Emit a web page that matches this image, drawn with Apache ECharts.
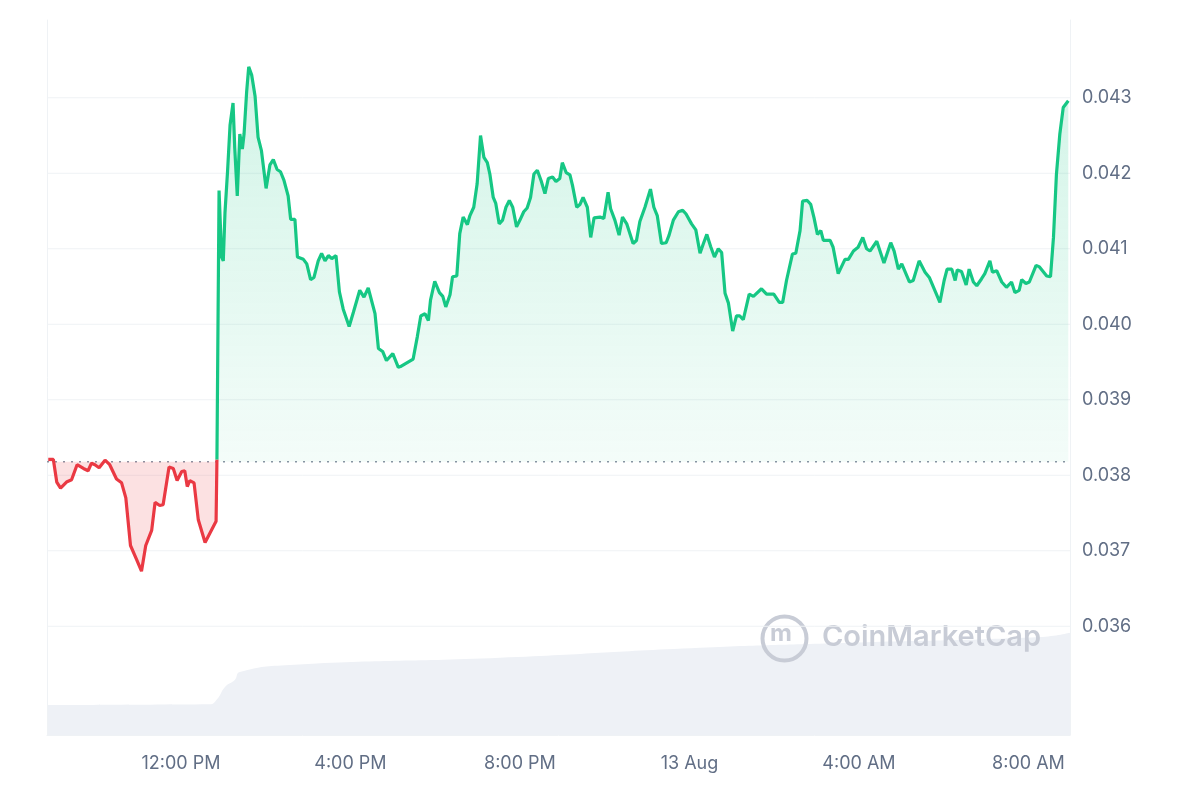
<!DOCTYPE html>
<html><head><meta charset="utf-8">
<script src="https://cdn.jsdelivr.net/npm/echarts@6/dist/echarts.min.js"></script>
<style>html,body{margin:0;padding:0;background:#fff}#c{width:1200px;height:800px}</style>
</head><body><div id="c"></div>
<script>
// hours relative to 12:00 PM on day 1
const baseline = 0.03818;
const xMin = -3.16, xMax = 20.98;
const yTicks = [0.036,0.037,0.038,0.039,0.040,0.041,0.042,0.043];
const xTicks = [0,4,8,12,16,20];
const xTickLabels = ['12:00 PM','4:00 PM','8:00 PM','13 Aug','4:00 AM','8:00 AM'];
const redHours = [-3.13,-3.01,-2.93,-2.84,-2.70,-2.58,-2.45,-2.30,-2.19,-2.11,-2.03,-1.93,-1.79,-1.68,-1.52,-1.40,-1.30,-1.19,-1.05,-0.93,-0.83,-0.69,-0.61,-0.50,-0.42,-0.28,-0.18,-0.09,0.02,0.09,0.15,0.21,0.31,0.41,0.57,0.68,0.83,0.85];
const redPrices = [0.03821,0.03821,0.03791,0.03783,0.03791,0.03794,0.03814,0.03809,0.03806,0.03816,0.03814,0.03810,0.03820,0.03814,0.03795,0.03790,0.03770,0.03707,0.03689,0.03673,0.03707,0.03727,0.03764,0.03760,0.03761,0.03811,0.03809,0.03793,0.03805,0.03806,0.03785,0.03793,0.03790,0.03741,0.03711,0.03723,0.03739,0.03821];
const greenHours = [0.85,0.90,0.96,1.00,1.04,1.10,1.16,1.23,1.27,1.33,1.39,1.45,1.49,1.55,1.60,1.67,1.75,1.82,1.90,2.01,2.10,2.18,2.27,2.35,2.43,2.53,2.59,2.69,2.75,2.89,2.97,3.06,3.14,3.24,3.32,3.40,3.48,3.56,3.66,3.74,3.83,3.97,4.07,4.22,4.32,4.42,4.58,4.66,4.76,4.85,5.00,5.13,
5.18,5.33,5.48,5.58,5.66,5.76,5.84,5.89,5.99,6.10,6.18,6.25,6.35,6.41,6.51,6.58,6.66,6.76,6.82,6.91,6.99,7.07,7.15,7.23,7.29,7.37,7.43,7.51,7.59,7.67,7.75,7.83,7.92,8.00,8.09,8.17,8.25,8.33,8.41,8.50,8.59,8.67,8.77,8.85,8.94,9.00,9.09,9.18,9.24,9.34,9.42,9.49,9.59,9.67,9.75,9.89,9.98,10.08,10.14,10.24,10.34,10.42,10.52,10.67,10.75,10.83,10.95,11.08,11.16,11.24,11.34,11.45,11.52,11.62,11.74,11.84,11.92,12.05,12.15,12.25,12.33,12.41,12.50,12.59,12.68,12.76,12.84,12.92,13.02,13.11,13.19,
13.27,13.41,13.51,13.70,13.82,13.99,14.12,14.20,14.29,14.43,14.51,14.61,14.67,14.78,14.86,14.94,15.02,15.10,15.16,15.32,15.39,15.51,15.67,15.75,15.87,15.98,16.09,16.18,16.26,16.42,16.59,16.75,16.83,16.93,17.01,17.19,17.28,17.42,17.56,17.66,17.91,18.01,18.08,18.19,18.27,18.32,18.42,18.53,18.60,18.70,18.78,18.89,18.97,19.09,19.15,19.25,19.37,19.48,19.60,19.68,19.78,19.84,19.94,20.02,20.18,20.26,20.43,20.52,20.59,20.66,20.74,20.82,20.94];
const greenPrices = [0.03821,0.04177,0.04089,0.04084,0.04148,0.04202,0.04264,0.04293,0.04234,0.04170,0.04252,0.04232,0.04252,0.04307,0.04341,0.04330,0.04302,0.04248,0.04230,0.04180,0.04211,0.04218,0.04205,0.04202,0.04191,0.04170,0.04139,0.04139,0.04089,0.04086,0.04080,0.04059,0.04062,0.04084,0.04094,0.04084,0.04091,0.04087,0.04091,0.04043,0.04020,0.03997,0.04016,0.04045,0.04036,0.04048,0.04014,0.03968,0.03964,0.03952,0.03961,0.03943,
0.03944,0.03949,0.03954,0.03984,0.04011,0.04014,0.04005,0.04032,0.04057,0.04042,0.04037,0.04023,0.04039,0.04063,0.04064,0.04120,0.04142,0.04132,0.04144,0.04155,0.04186,0.04250,0.04221,0.04214,0.04199,0.04168,0.04160,0.04133,0.04138,0.04155,0.04164,0.04155,0.04129,0.04138,0.04149,0.04154,0.04168,0.04199,0.04204,0.04190,0.04173,0.04193,0.04195,0.04189,0.04193,0.04214,0.04201,0.04198,0.04184,0.04155,0.04159,0.04168,0.04155,0.04115,0.04141,0.04142,0.04140,0.04175,0.04153,0.04138,0.04118,0.04142,0.04133,0.04107,0.04111,0.04136,0.04155,0.04179,0.04155,0.04144,0.04107,0.04108,0.04118,0.04138,0.04149,0.04151,0.04146,0.04133,0.04125,0.04094,0.04107,0.04119,0.04103,0.04089,0.04100,0.04095,0.04041,0.04028,0.03991,0.04011,0.04011,
0.04006,0.04040,0.04037,0.04047,0.04040,0.04040,0.04029,0.04029,0.04058,0.04093,0.04094,0.04124,0.04163,0.04164,0.04159,0.04141,0.04119,0.04124,0.04111,0.04111,0.04102,0.04067,0.04086,0.04086,0.04097,0.04102,0.04115,0.04100,0.04097,0.04110,0.04081,0.04108,0.04097,0.04073,0.04080,0.04056,0.04058,0.04084,0.04069,0.04062,0.04029,0.04058,0.04073,0.04073,0.04058,0.04072,0.04070,0.04052,0.04073,0.04056,0.04051,0.04060,0.04067,0.04084,0.04069,0.04071,0.04056,0.04049,0.04056,0.04042,0.04045,0.04059,0.04054,0.04056,0.04078,0.04076,0.04064,0.04063,0.04115,0.04199,0.04252,0.04287,0.04296];
const volHours = [-3.16,0.68,0.85,1.05,1.27,1.39,2.57,7.53,12.25,15.79,20.27,20.98];
const volValues = [4.2,4.3,5.0,6.8,7.7,8.8,9.8,10.8,12.2,12.9,13.7,14.3];

const zip = (a,b)=>a.map((v,i)=>[v,b[i]]);
const chart = echarts.init(document.getElementById('c'));
const font = 'Inter, "Noto Sans", sans-serif';
const gridSeries = yTicks.map(v=>({type:'line',data:[[xMin,v],[xMax,v]],symbol:'none',silent:true,
  lineStyle:{color:'#eff2f5',width:1},z:1}));
chart.setOption({
  animation:false,
  grid:{left:47,right:130,top:20,bottom:65},
  xAxis:{type:'value',min:xMin,max:xMax,
    axisLine:{show:true,onZero:false,lineStyle:{color:'#eff2f5'}},axisTick:{show:false},splitLine:{show:false},
    axisLabel:{customValues:xTicks,color:'#616e85',fontSize:18,fontFamily:font,margin:20,
      formatter:v=>xTickLabels[xTicks.indexOf(Math.round(v))]||''}},
  yAxis:[{type:'value',position:'right',min:0.03456,max:0.04403,
    axisLine:{show:true,onZero:false,lineStyle:{color:'#eff2f5'}},axisTick:{show:false},splitLine:{show:false},
    axisLabel:{customValues:yTicks,color:'#616e85',fontSize:18,fontFamily:font,margin:12,formatter:v=>v.toFixed(3)}},
   {type:'value',position:'left',min:0,max:100,show:true,axisLabel:{show:false},axisTick:{show:false},
    splitLine:{show:false},axisLine:{show:true,onZero:false,lineStyle:{color:'#eff2f5'}}}],
  graphic:[
    {type:'circle',left:760,top:614,shape:{r:22},style:{fill:'none',stroke:'#c8ccd6',lineWidth:4},z:1},
    {type:'text',left:770,top:622,style:{text:'m',fill:'#c8ccd6',font:'bold 24px '+font},z:1},
    {type:'text',left:822,top:623,style:{text:'CoinMarketCap',fill:'#c8ccd6',font:'600 29px '+font},z:1}
  ],
  series:[
    {type:'line',yAxisIndex:1,data:zip(volHours,volValues),symbol:'none',smooth:true,
      lineStyle:{width:0},areaStyle:{color:'#eef1f6',opacity:1},z:0,silent:true},
    ...gridSeries,
    {type:'line',data:[[xMin,baseline],[xMax,baseline]],symbol:'none',silent:true,
      lineStyle:{color:'#8a93a3',type:[2,6],width:1.5},z:2},
    {type:'line',data:zip(redHours,redPrices),symbol:'none',
      lineStyle:{color:'#ea3943',width:3.2},
      areaStyle:{origin:baseline,color:'rgba(234,57,67,0.22)'},z:3},
    {type:'line',data:zip(greenHours,greenPrices),symbol:'none',
      lineStyle:{color:'#16c784',width:3.2},
      areaStyle:{origin:baseline,color:new echarts.graphic.LinearGradient(0,0,0,1,[
        {offset:0,color:'rgba(22,199,132,0.28)'},{offset:1,color:'rgba(22,199,132,0.07)'}])},z:3}
  ]
});
</script></body></html>
